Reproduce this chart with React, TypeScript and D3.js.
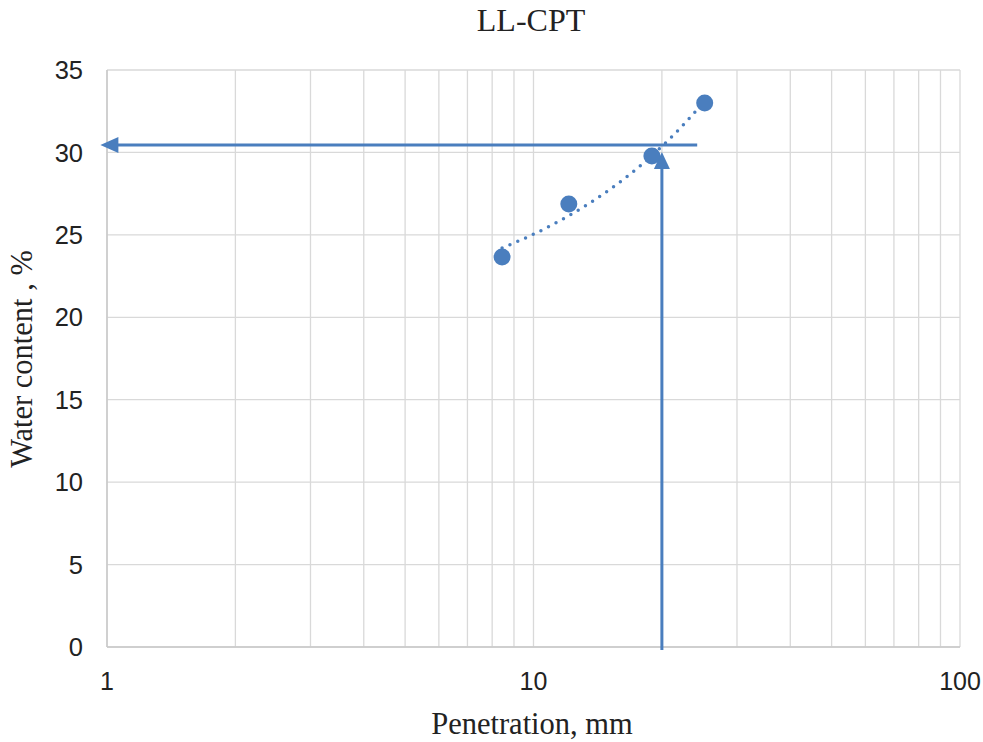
import React from "react";
import * as d3 from "d3";

const penetration = [8.44, 12.1, 18.95, 25.2];
const waterContent = [23.66, 26.87, 29.78, 33.0];
const xTicks = [1, 10, 100];
const yTicks = [0, 5, 10, 15, 20, 25, 30, 35];
const minorX = [2, 3, 4, 5, 6, 7, 8, 9, 20, 30, 40, 50, 60, 70, 80, 90];
const refPenetration = 20;
const refWater = 30.45;
const hArrowStart = 24.2;
const hArrowEnd = 0.965;
const vArrowTop = 29.9;

const W = 983, H = 742;
const L = 107, R = 960, T = 70, B = 647;
const BLUE = "#4a7ebe";
const GRID = "#d9d9d9";

export default function App() {
  const x = d3.scaleLog().domain([1, 100]).range([L, R]);
  const y = d3.scaleLinear().domain([0, 35]).range([B, T]);

  const n = penetration.length;
  const mx = d3.mean(penetration)!;
  const my = d3.mean(waterContent)!;
  let sxy = 0, sxx = 0;
  for (let i = 0; i < n; i++) {
    sxy += (penetration[i] - mx) * (waterContent[i] - my);
    sxx += (penetration[i] - mx) ** 2;
  }
  const slope = sxy / sxx;
  const icpt = my - slope * mx;
  const x0 = d3.min(penetration)!, x1 = d3.max(penetration)!;
  const trend = d3.range(0, 61).map((i) => {
    const xv = x0 + ((x1 - x0) * i) / 60;
    return [x(xv), y(icpt + slope * xv)] as [number, number];
  });
  const line = d3.line();

  const hy = y(refWater);
  const vx = x(refPenetration);
  const sans = "Liberation Sans, Arial, sans-serif";
  const serif = "Liberation Serif, Times New Roman, serif";

  return (
    <svg width={W} height={H} style={{ position: "absolute", left: 0, top: 0 }}>
      <rect width={W} height={H} fill="#fff" />
      {minorX.map((v) => (
        <line key={"mx" + v} x1={x(v)} x2={x(v)} y1={T} y2={B} stroke={GRID} strokeWidth={1.3} />
      ))}
      {xTicks.map((v) => (
        <line key={"Mx" + v} x1={x(v)} x2={x(v)} y1={T} y2={B} stroke={GRID} strokeWidth={1.3} />
      ))}
      {yTicks.map((v) => (
        <line key={"gy" + v} x1={L} x2={R} y1={y(v)} y2={y(v)} stroke={GRID} strokeWidth={1.3} />
      ))}
      <line x1={L} x2={L} y1={T} y2={B} stroke="#c8c8c8" strokeWidth={1.5} />
      <line x1={L} x2={R} y1={B} y2={B} stroke="#c8c8c8" strokeWidth={1.5} />

      {yTicks.map((v) => (
        <text key={"ty" + v} x={83} y={y(v)} dy="0.36em" textAnchor="end"
          fontFamily={sans} fontSize={25.5} fill="#222">{v}</text>
      ))}
      {xTicks.map((v) => (
        <text key={"tx" + v} x={x(v)} y={690} textAnchor="middle"
          fontFamily={sans} fontSize={25} fill="#222">{v}</text>
      ))}

      <text x={531} y={31} textAnchor="middle" fontFamily={serif} fontSize={32} fill="#222">LL-CPT</text>
      <text x={532} y={734} textAnchor="middle" fontFamily={serif} fontSize={30.5} fill="#222">Penetration, mm</text>
      <text transform={`translate(32,359) rotate(-90)`} textAnchor="middle"
        fontFamily={serif} fontSize={30.5} fill="#222">Water content , %</text>

      <path d={line(trend) || ""} fill="none" stroke={BLUE} strokeWidth={3.5}
        strokeDasharray="0 8.5" strokeLinecap="round" />

      {penetration.map((p, i) => (
        <circle key={"p" + i} cx={x(p)} cy={y(waterContent[i])} r={8.5} fill={BLUE} />
      ))}

      <line x1={x(hArrowStart)} x2={x(hArrowEnd) + 14} y1={hy} y2={hy} stroke={BLUE} strokeWidth={3} />
      <path d={`M${x(hArrowEnd)},${hy} L${x(hArrowEnd) + 18},${hy - 8} L${x(hArrowEnd) + 18},${hy + 8} Z`} fill={BLUE} />
      <line x1={vx} x2={vx} y1={y(0) + 3} y2={y(vArrowTop) + 12} stroke={BLUE} strokeWidth={3} />
      <path d={`M${vx},${y(vArrowTop) - 2} L${vx + 8},${y(vArrowTop) + 15} L${vx - 8},${y(vArrowTop) + 15} Z`} fill={BLUE} />
    </svg>
  );
}
